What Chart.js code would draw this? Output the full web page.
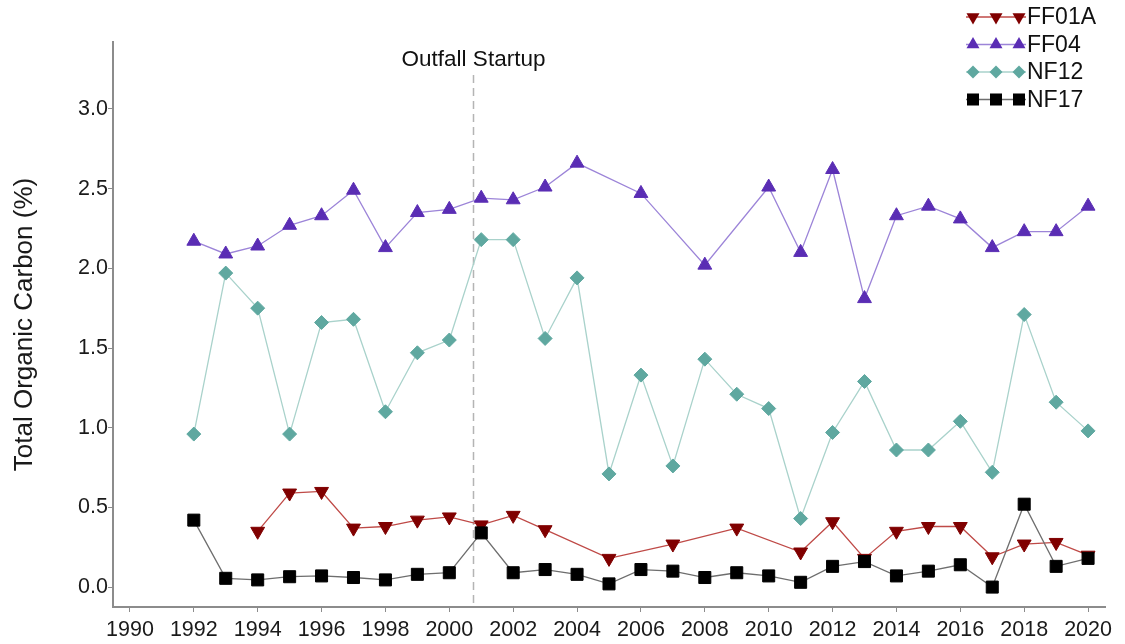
<!DOCTYPE html>
<html>
<head>
<meta charset="utf-8">
<title>Total Organic Carbon</title>
<script src="https://cdn.jsdelivr.net/npm/chart.js@4/dist/chart.umd.min.js"></script>
<style>
  html, body { margin: 0; padding: 0; background: #ffffff; }
  #wrap { width: 1125px; height: 644px; }
</style>
</head>
<body>
<div id="wrap"><canvas id="toc" width="1125" height="644"></canvas></div>
<script>
// Sampling years and TOC (%) per station
const ff01aYears = [1994, 1995, 1996, 1997, 1998, 1999, 2000, 2001, 2002, 2003, 2005, 2007, 2009, 2011, 2012, 2013, 2014, 2015, 2016, 2017, 2018, 2019, 2020];
const ff01aValues = [0.35, 0.59, 0.60, 0.37, 0.38, 0.42, 0.44, 0.39, 0.45, 0.36, 0.18, 0.27, 0.37, 0.22, 0.41, 0.18, 0.35, 0.38, 0.38, 0.19, 0.27, 0.28, 0.20];

const ff04Years = [1992, 1993, 1994, 1995, 1996, 1997, 1998, 1999, 2000, 2001, 2002, 2003, 2004, 2006, 2008, 2010, 2011, 2012, 2013, 2014, 2015, 2016, 2017, 2018, 2019, 2020];
const ff04Values = [2.17, 2.09, 2.14, 2.27, 2.33, 2.49, 2.13, 2.35, 2.37, 2.44, 2.43, 2.51, 2.66, 2.47, 2.02, 2.51, 2.10, 2.62, 1.81, 2.33, 2.39, 2.31, 2.13, 2.23, 2.23, 2.39];

const nf12Years = [1992, 1993, 1994, 1995, 1996, 1997, 1998, 1999, 2000, 2001, 2002, 2003, 2004, 2005, 2006, 2007, 2008, 2009, 2010, 2011, 2012, 2013, 2014, 2015, 2016, 2017, 2018, 2019, 2020];
const nf12Values = [0.96, 1.97, 1.75, 0.96, 1.66, 1.68, 1.10, 1.47, 1.55, 2.18, 2.18, 1.56, 1.94, 0.71, 1.33, 0.76, 1.43, 1.21, 1.12, 0.43, 0.97, 1.29, 0.86, 0.86, 1.04, 0.72, 1.71, 1.16, 0.98];

const nf17Years = [1992, 1993, 1994, 1995, 1996, 1997, 1998, 1999, 2000, 2001, 2002, 2003, 2004, 2005, 2006, 2007, 2008, 2009, 2010, 2011, 2012, 2013, 2014, 2015, 2016, 2017, 2018, 2019, 2020];
const nf17Values = [0.42, 0.055, 0.045, 0.065, 0.07, 0.06, 0.045, 0.08, 0.09, 0.34, 0.09, 0.11, 0.08, 0.02, 0.11, 0.10, 0.06, 0.09, 0.07, 0.03, 0.13, 0.16, 0.07, 0.10, 0.14, 0.00, 0.52, 0.13, 0.18];

const xTickYears = [1990, 1992, 1994, 1996, 1998, 2000, 2002, 2004, 2006, 2008, 2010, 2012, 2014, 2016, 2018, 2020];
const yTickValues = [0.0, 0.5, 1.0, 1.5, 2.0, 2.5, 3.0];

const outfallStartupYear = 2000.75;
const outfallLabel = 'Outfall Startup';
const yAxisTitle = 'Total Organic Carbon (%)';

const FONT = '"Liberation Sans", Arial, Helvetica, sans-serif';

const series = [
  { name: 'FF01A', years: ff01aYears, values: ff01aValues, marker: '#800000', line: '#bf4a47', style: 'triangle', rotation: 180, radius: 8, order: 3 },
  { name: 'FF04',  years: ff04Years,  values: ff04Values,  marker: '#5a2db4', line: '#9c84d8', style: 'triangle', rotation: 0,   radius: 8, order: 2 },
  { name: 'NF12',  years: nf12Years,  values: nf12Values,  marker: '#5fa8a0', line: '#a9d2cb', style: 'rectRot',  rotation: 0,   radius: 7, order: 1 },
  { name: 'NF17',  years: nf17Years,  values: nf17Values,  marker: '#000000', line: '#6e6e6e', style: 'rect',     rotation: 0,   radius: 8.5, order: 0 }
];

const datasets = series.map(s => ({
  label: s.name,
  data: s.years.map((yr, i) => ({ x: yr, y: s.values[i] })),
  borderColor: s.line,
  borderWidth: 1.3,
  backgroundColor: s.marker,
  pointBackgroundColor: s.marker,
  pointBorderColor: s.marker,
  pointBorderWidth: 1,
  pointStyle: s.style,
  pointRotation: s.rotation,
  pointRadius: s.radius,
  pointHoverRadius: s.radius,
  tension: 0,
  fill: false,
  order: s.order
}));

// Vertical dashed marker for the outfall startup year, with its label
const outfallMarker = {
  id: 'outfallMarker',
  beforeDatasetsDraw(chart) {
    const ctx = chart.ctx;
    const xs = chart.scales.x;
    const area = chart.chartArea;
    const px = Math.round(xs.getPixelForValue(outfallStartupYear)) + 0.5;
    ctx.save();
    ctx.strokeStyle = '#b4b4b4';
    ctx.lineWidth = 1.5;
    ctx.setLineDash([8, 5]);
    ctx.beginPath();
    ctx.moveTo(px, 75);
    ctx.lineTo(px, area.bottom);
    ctx.stroke();
    ctx.setLineDash([]);
    ctx.fillStyle = '#111111';
    ctx.font = '22.5px ' + FONT;
    ctx.textAlign = 'center';
    ctx.textBaseline = 'middle';
    ctx.fillText(outfallLabel, px, 60);
    ctx.restore();
  }
};

function drawMarker(ctx, style, rotation, x, y, r) {
  ctx.beginPath();
  if (style === 'triangle') {
    let rad = rotation * Math.PI / 180;
    for (let k = 0; k < 3; k++) {
      const px = x + Math.sin(rad) * r;
      const py = y - Math.cos(rad) * r;
      if (k === 0) ctx.moveTo(px, py); else ctx.lineTo(px, py);
      rad += 2 * Math.PI / 3;
    }
    ctx.closePath();
  } else if (style === 'rectRot') {
    ctx.moveTo(x, y - r);
    ctx.lineTo(x + r, y);
    ctx.lineTo(x, y + r);
    ctx.lineTo(x - r, y);
    ctx.closePath();
  } else {
    const h = r * Math.SQRT1_2;
    ctx.rect(x - h, y - h, 2 * h, 2 * h);
  }
  ctx.fill();
}

// Legend in the upper right: a short line carrying three markers, then the station name
const stationLegend = {
  id: 'stationLegend',
  afterDraw(chart) {
    const ctx = chart.ctx;
    ctx.save();
    series.forEach((s, i) => {
      const cy = 17 + i * 27.5;
      ctx.strokeStyle = s.line;
      ctx.lineWidth = 1.3;
      ctx.beginPath();
      ctx.moveTo(966, cy);
      ctx.lineTo(1026, cy);
      ctx.stroke();
      ctx.fillStyle = s.marker;
      const r = s.style === 'triangle' ? 7.5 : (s.style === 'rectRot' ? 6.5 : 8.5);
      [973, 996, 1019].forEach(mx => drawMarker(ctx, s.style, s.rotation, mx, cy, r));
      ctx.fillStyle = '#111111';
      ctx.font = '23px ' + FONT;
      ctx.textAlign = 'left';
      ctx.textBaseline = 'middle';
      ctx.fillText(s.name, 1027, cy + 1);
    });
    ctx.restore();
  }
};

new Chart(document.getElementById('toc'), {
  type: 'line',
  data: { datasets },
  plugins: [outfallMarker, stationLegend],
  options: {
    responsive: false,
    devicePixelRatio: 1,
    animation: false,
    events: [],
    layout: { padding: { top: 42, right: 20, bottom: 0, left: 0 } },
    plugins: {
      legend: { display: false },
      tooltip: { enabled: false },
      title: { display: false }
    },
    scales: {
      x: {
        type: 'linear',
        min: 1989.47,
        max: 2020.53,
        afterFit(scale) { scale.height = 37; },
        afterBuildTicks(scale) { scale.ticks = xTickYears.map(v => ({ value: v })); },
        border: { display: true, color: '#8c8c8c', width: 2 },
        grid: { display: true, drawOnChartArea: false, drawTicks: true, tickLength: 5, color: '#8c8c8c', tickWidth: 1 },
        ticks: {
          autoSkip: false,
          maxRotation: 0,
          minRotation: 0,
          padding: 5,
          color: '#1a1a1a',
          font: { family: FONT, size: 21.5 },
          callback: v => String(v)
        }
      },
      y: {
        type: 'linear',
        min: -0.125,
        max: 3.42,
        afterFit(scale) { scale.width = 113; },
        afterBuildTicks(scale) { scale.ticks = yTickValues.map(v => ({ value: v })); },
        border: { display: true, color: '#8c8c8c', width: 2 },
        grid: { display: true, drawOnChartArea: false, drawTicks: true, tickLength: 5, color: '#8c8c8c', tickWidth: 1 },
        title: {
          display: true,
          text: yAxisTitle,
          color: '#1a1a1a',
          font: { family: FONT, size: 26 },
          padding: { top: 9, bottom: 0 }
        },
        ticks: {
          padding: 0,
          color: '#1a1a1a',
          font: { family: FONT, size: 21.5 },
          callback: v => Number(v).toFixed(1)
        }
      }
    }
  }
});
</script>
</body>
</html>
